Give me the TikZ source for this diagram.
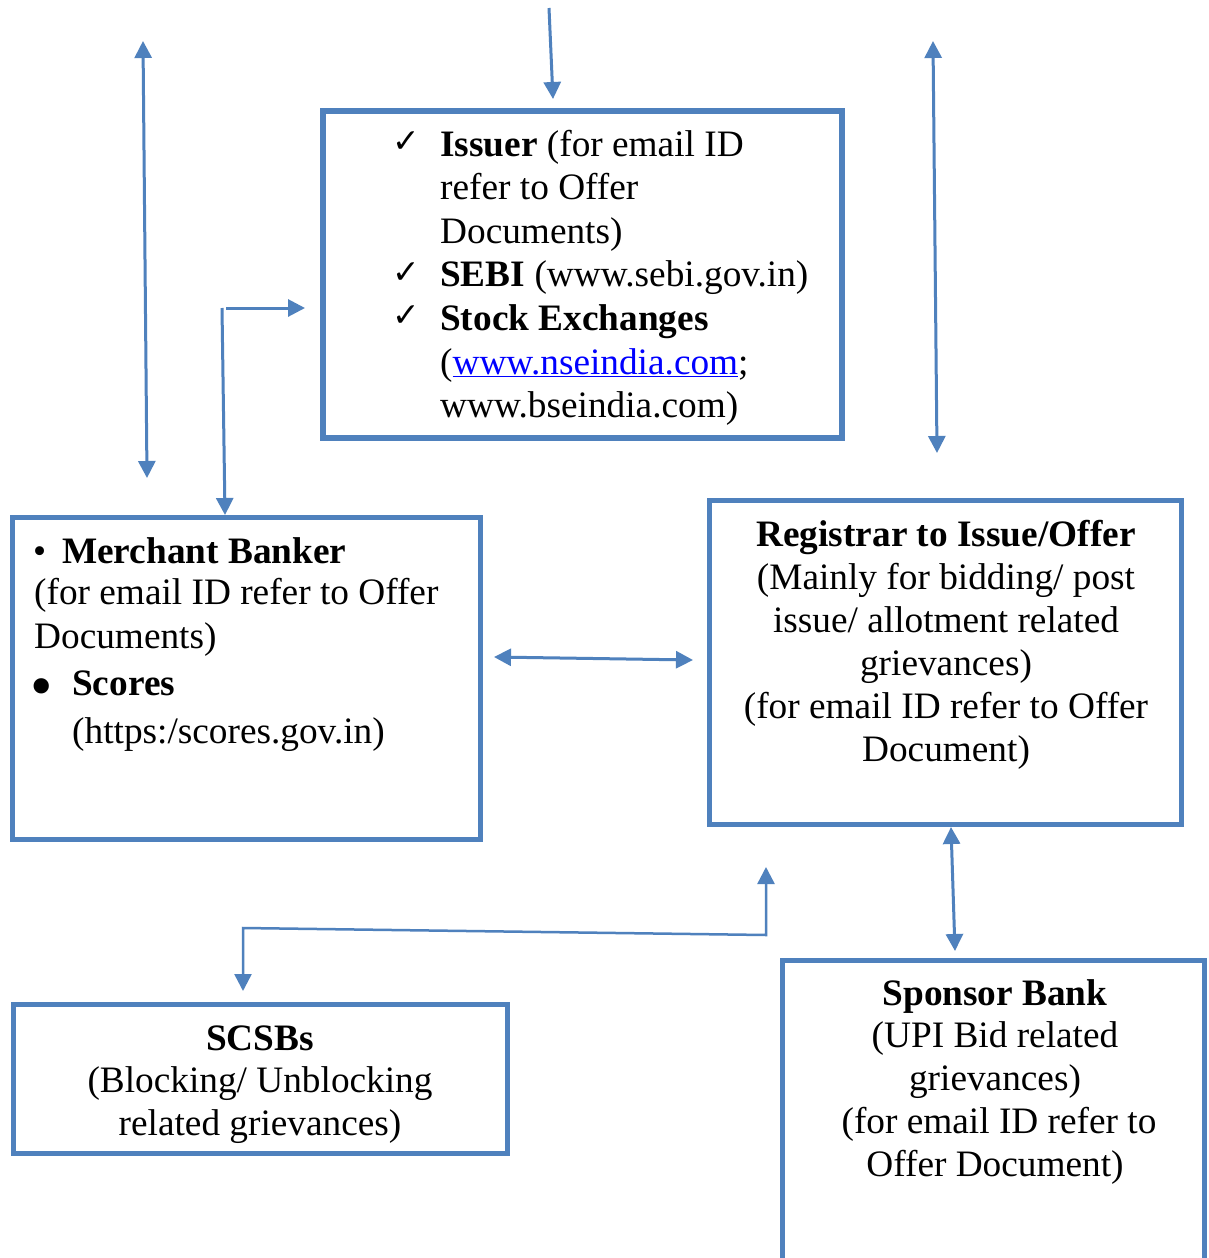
\documentclass[tikz,border=0pt]{standalone}
\usepackage{fontspec}
\setmainfont{Liberation Serif}
\newfontfamily\symfont{DejaVu Sans}
\usetikzlibrary{arrows.meta}
\definecolor{boxblue}{HTML}{4F81BD}
\definecolor{linkblue}{RGB}{0,0,255}
\begin{document}
\begin{tikzpicture}[x=1pt,y=-1pt,
  boxline/.style={draw=boxblue,line width=5.5pt,rectangle,inner sep=0pt},
  conn/.style={draw=boxblue,line width=3pt,-{Triangle[length=17pt,width=17pt]}},
  dconn/.style={draw=boxblue,line width=3pt,{Triangle[length=17pt,width=17pt]}-{Triangle[length=17pt,width=17pt]}},
  txt/.style={inner sep=0pt,font=\fontsize{37.3}{43}\selectfont},
  lt/.style={txt,anchor=base west},
  ct/.style={txt,anchor=base},
  chk/.style={inner sep=0pt,anchor=base west,font=\symfont\bfseries\fontsize{33}{33}\selectfont}]
\useasboundingbox (0,0) rectangle (1209,1258);
\fill[white] (0,0) rectangle (1209,1258);

% boxes
\node[boxline,minimum width=519pt,minimum height=327pt] (issuer) at (582.5,274.5) {};
\node[boxline,minimum width=468pt,minimum height=322pt] (merchant) at (246.5,678.5) {};
\node[boxline,minimum width=472pt,minimum height=324pt] (registrar) at (945.5,662.5) {};
\node[boxline,minimum width=494pt,minimum height=149pt] (scsb) at (260.5,1079) {};
\node[boxline,minimum width=422pt,minimum height=360pt] (sponsor) at (993.5,1140.5) {};

% connector ends
\coordinate (topin) at (549,8);
\coordinate (topend) at (553,99);
\coordinate (lvA) at (143,41);
\coordinate (lvB) at (147,478);
\coordinate (rvA) at (933,41);
\coordinate (rvB) at (937,453);
\coordinate (elb) at (222,308);
\coordinate (elbR) at (226,308);
\coordinate (elbTip) at (305,308);
\coordinate (mTop) at (225,515);
\coordinate (hA) at (494,657);
\coordinate (hB) at (693,660);
\coordinate (sA) at (243,991);
\coordinate (sC1) at (243,928);
\coordinate (sC2) at (766,935);
\coordinate (sB) at (766,867);
\coordinate (rsA) at (951,827);
\coordinate (rsB) at (955,951);

\draw[conn] (topin) -- (topend);
\draw[dconn] (lvA) -- (lvB);
\draw[dconn] (rvA) -- (rvB);
\draw[conn] (elb) -- (mTop);
\draw[conn] (elbR) -- (elbTip);
\draw[dconn] (hA) -- (hB);
\draw[dconn,line width=2.5pt] (sA) -- (sC1) -- (sC2) -- (sB);
\draw[dconn] (rsA) -- (rsB);

% Issuer box text
\node[chk] (c1) at (392,152) {✓};
\node[chk] (c2) at (392,283) {✓};
\node[chk] (c3) at (392,326) {✓};
\node[lt] (i1) at (440,156) {\textbf{Issuer} (for email ID};
\node[lt] (i2) at (440,199.6) {refer to Offer};
\node[lt] (i3) at (440,243.2) {Documents)};
\node[lt] (i4) at (440,286.8) {\textbf{SEBI} (www.sebi.gov.in)};
\node[lt] (i5) at (440,330.4) {\textbf{Stock Exchanges}};
\node[lt] (i6) at (440,374) {(\textcolor{linkblue}{\underline{www.nseindia.com}};};
\node[lt] (i7) at (440,417.6) {www.bseindia.com)};

% Merchant box text
\node[lt] (b1) at (33,563) {\textbullet};
\node[lt] (m1) at (62,563) {\textbf{Merchant Banker}};
\node[lt] (m2) at (34,604) {(for email ID refer to Offer};
\node[lt] (m3) at (34,648) {Documents)};
\node[inner sep=0pt,anchor=base west,font=\fontsize{64}{64}\selectfont] (b2) at (30,707) {\textbullet};
\node[lt] (m4) at (72,695) {\textbf{Scores}};
\node[lt] (m5) at (72,743) {(https:/scores.gov.in)};

% Registrar box text
\node[ct] (r1) at (946,546) {\textbf{Registrar to Issue/Offer}};
\node[ct] (r2) at (946,589) {(Mainly for bidding/ post};
\node[ct] (r3) at (946,632) {issue/ allotment related};
\node[ct] (r4) at (946,675) {grievances)};
\node[ct] (r5) at (946,718) {(for email ID refer to Offer};
\node[ct] (r6) at (946,761) {Document)};

% SCSB box text
\node[ct] (s1) at (260,1050) {\textbf{SCSBs}};
\node[ct] (s2) at (260,1092) {(Blocking/ Unblocking};
\node[ct] (s3) at (260,1135) {related grievances)};

% Sponsor box text
\node[ct] (p1) at (995,1005) {\textbf{Sponsor Bank}};
\node[ct] (p2) at (995,1047) {(UPI Bid related};
\node[ct] (p3) at (995,1090) {grievances)};
\node[ct] (p4) at (999,1133) {(for email ID refer to};
\node[ct] (p5) at (995,1176) {Offer Document)};
\end{tikzpicture}
\end{document}
